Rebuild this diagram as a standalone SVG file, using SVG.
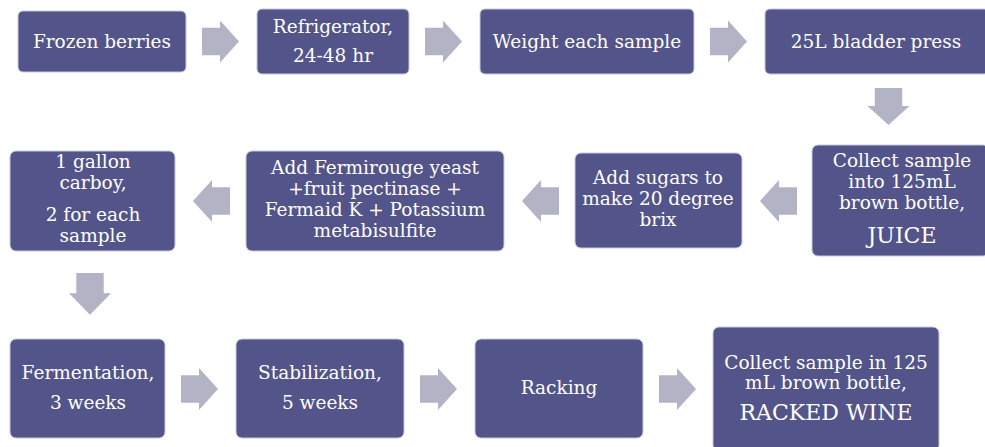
<svg xmlns="http://www.w3.org/2000/svg" xmlns:xlink="http://www.w3.org/1999/xlink" width="985" height="447" viewBox="0 0 985 447">
<style>
.box{fill:#53548A;stroke:#C8C8DA;stroke-width:1}
text{font-family:'DejaVu Serif','Liberation Serif',serif;font-size:18.5px;fill:#FFFFFF;text-anchor:middle}
.big{font-size:22px}
.arr{fill:#B3B3C6}
</style>
<defs>
<path id="ar" d="M0,-13.7 L18,-13.7 L18,-21 L37,0 L18,21 L18,13.7 L0,13.7 Z"/>
</defs>
<rect width="985" height="447" fill="#FFFFFF"/>
<g id="connectors" class="arr">
<use xlink:href="#ar" transform="translate(202,41.5)"/>
<use xlink:href="#ar" transform="translate(425,41.5)"/>
<use xlink:href="#ar" transform="translate(710,41.5)"/>
<use xlink:href="#ar" transform="translate(888.5,88) rotate(90)"/>
<use xlink:href="#ar" transform="translate(797,201) rotate(180)"/>
<use xlink:href="#ar" transform="translate(559,201) rotate(180)"/>
<use xlink:href="#ar" transform="translate(230,201) rotate(180)"/>
<use xlink:href="#ar" transform="translate(90,273) rotate(90) scale(1.13,1)"/>
<use xlink:href="#ar" transform="translate(181,389)"/>
<use xlink:href="#ar" transform="translate(420,389)"/>
<use xlink:href="#ar" transform="translate(659,389)"/>
</g>
<g id="n1"><rect class="box" x="18" y="11" width="168" height="61" rx="5"/><text x="102" y="48">Frozen berries</text></g>
<g id="n2"><rect class="box" x="257" y="9" width="152" height="65" rx="5"/><text x="333" y="33">Refrigerator,</text><text x="333" y="62">24-48 hr</text></g>
<g id="n3"><rect class="box" x="480" y="9" width="214" height="65" rx="5"/><text x="587" y="48">Weight each sample</text></g>
<g id="n4"><rect class="box" x="765" y="9" width="224" height="65" rx="5"/><text x="876" y="48">25L bladder press</text></g>
<g id="n5"><rect class="box" x="812" y="145" width="177" height="111" rx="6"/><text x="902" y="167">Collect  sample</text><text x="902" y="188">into 125mL</text><text x="902" y="209">brown bottle,</text><text class="big" x="902" y="243">JUICE</text></g>
<g id="n6"><rect class="box" x="575" y="153" width="167" height="95" rx="6"/><text x="658" y="184">Add sugars to</text><text x="658" y="205">make 20 degree</text><text x="658" y="226">brix</text></g>
<g id="n7"><rect class="box" x="246" y="151" width="258" height="100" rx="6"/><text x="375" y="174">Add Fermirouge yeast</text><text x="375" y="195">+fruit pectinase +</text><text x="375" y="216">Fermaid K + Potassium</text><text x="375" y="237">metabisulfite</text></g>
<g id="n8"><rect class="box" x="10" y="151" width="165" height="100" rx="6"/><text x="93" y="168">1 gallon</text><text x="93" y="189">carboy,</text><text x="93" y="221">2 for each</text><text x="93" y="242">sample</text></g>
<g id="n9"><rect class="box" x="10" y="339" width="155" height="99" rx="6"/><text x="88" y="379">Fermentation,</text><text x="88" y="409">3 weeks</text></g>
<g id="n10"><rect class="box" x="236" y="339" width="168" height="99" rx="6"/><text x="320" y="379">Stabilization,</text><text x="320" y="409">5 weeks</text></g>
<g id="n11"><rect class="box" x="475" y="339" width="168" height="99" rx="6"/><text x="559" y="394">Racking</text></g>
<g id="n12"><rect class="box" x="713" y="327" width="226" height="124" rx="6"/><text x="826" y="369">Collect sample in 125</text><text x="826" y="389">mL brown bottle,</text><text class="big" x="826" y="420">RACKED WINE</text></g>
</svg>
